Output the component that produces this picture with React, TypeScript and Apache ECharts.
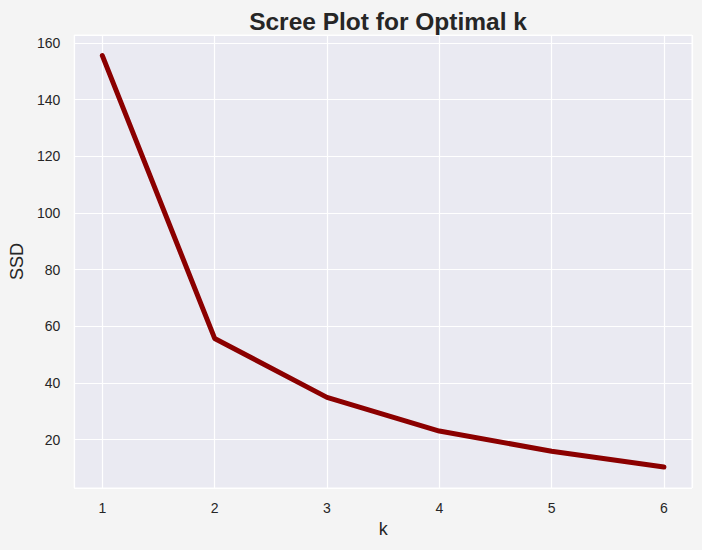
import React, { useEffect, useRef } from "react";
import * as echarts from "echarts";

const kValues = [1, 2, 3, 4, 5, 6];
const ssdValues = [155.5, 55.7, 34.9, 23.0, 15.9, 10.3];
const xTickLabels = ["1", "2", "3", "4", "5", "6"];
const yTickLabels = ["20", "40", "60", "80", "100", "120", "140", "160"];

export default function App() {
  const ref = useRef<HTMLDivElement>(null);
  useEffect(() => {
    if (!ref.current) return;
    const chart = echarts.init(ref.current, undefined, { renderer: "svg" });
    const font = "'Liberation Sans', Arial, sans-serif";
    const textColor = "#262626";
    chart.setOption({
      animation: false,
      backgroundColor: "#f4f4f4",
      title: {
        text: "Scree Plot for Optimal k",
        left: 383,
        textAlign: "center",
        top: 4,
        textStyle: { fontFamily: font, fontSize: 24.5, fontWeight: "bold", color: textColor },
      },
      grid: {
        left: 72,
        right: 10,
        top: 35,
        bottom: 62,
        show: true,
        backgroundColor: "#eaeaf2",
        borderColor: "#ffffff",
        borderWidth: 1,
      },
      xAxis: {
        type: "value",
        min: 0.75,
        max: 6.25,
        splitNumber: 5,
        name: "k",
        nameLocation: "middle",
        nameGap: 32,
        nameTextStyle: { fontFamily: font, fontSize: 18, color: textColor },
        axisLine: { show: false },
        axisTick: { show: false },
        axisLabel: {
          fontFamily: font,
          fontSize: 14,
          color: textColor,
          margin: 13,
          formatter: (v: number) => (xTickLabels.includes(String(v)) ? String(v) : ""),
        },
        splitLine: { show: true, lineStyle: { color: "#ffffff", width: 1.2 } },
      },
      yAxis: {
        type: "value",
        min: 2.9,
        max: 162.8,
        splitNumber: 8,
        name: "SSD",
        nameLocation: "middle",
        nameGap: 42,
        nameTextStyle: { fontFamily: font, fontSize: 18, color: textColor },
        axisLine: { show: false },
        axisTick: { show: false },
        axisLabel: {
          fontFamily: font,
          fontSize: 14,
          color: textColor,
          margin: 14,
          formatter: (v: number) => (yTickLabels.includes(String(v)) ? String(v) : ""),
        },
        splitLine: { show: true, lineStyle: { color: "#ffffff", width: 1.2 } },
      },
      series: [
        {
          type: "line",
          data: kValues.map((k, i) => [k, ssdValues[i]]),
          showSymbol: false,
          symbol: "none",
          lineStyle: { color: "#8b0000", width: 5, cap: "round", join: "round" },
        },
      ],
    });
    return () => chart.dispose();
  }, []);
  return <div ref={ref} style={{ width: 702, height: 550, position: "absolute", left: 0, top: 0 }} />;
}
